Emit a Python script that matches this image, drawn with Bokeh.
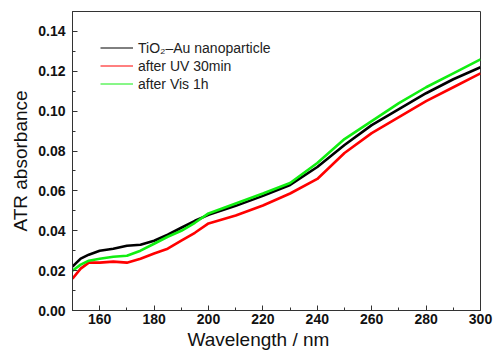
from bokeh.plotting import figure
from bokeh.models import Range1d, FixedTicker, Legend, LegendItem, Title, CustomJSTickFormatter
from bokeh.embed import file_html
from bokeh.resources import INLINE

wl = [150, 153, 156, 160, 165, 170, 175, 180, 185, 190, 195, 200, 210, 220, 230, 240, 250, 260, 270, 280, 290, 300]
tio2_au = [0.022, 0.026, 0.028, 0.030, 0.031, 0.0325, 0.033, 0.035, 0.038, 0.0415, 0.045, 0.048, 0.0525, 0.0575, 0.063, 0.072, 0.083, 0.093, 0.101, 0.109, 0.116, 0.122]
after_uv = [0.016, 0.021, 0.024, 0.024, 0.0245, 0.024, 0.026, 0.0286, 0.031, 0.035, 0.039, 0.0437, 0.0477, 0.0527, 0.0587, 0.066, 0.079, 0.089, 0.097, 0.105, 0.112, 0.119]
after_vis = [0.020, 0.023, 0.025, 0.026, 0.027, 0.0275, 0.030, 0.0335, 0.037, 0.040, 0.044, 0.0487, 0.0537, 0.0587, 0.064, 0.074, 0.086, 0.095, 0.104, 0.112, 0.119, 0.126]

x_ticks = [160, 180, 200, 220, 240, 260, 280, 300]
y_ticks = [0.00, 0.02, 0.04, 0.06, 0.08, 0.10, 0.12, 0.14]
labels = ["TiO\u2082\u2013Au nanoparticle", "after UV 30min", "after Vis 1h"]
colors = ["#000000", "#ff0000", "#11ee11"]

p = figure(width=500, height=354, output_backend="svg", toolbar_location=None,
           x_range=Range1d(150, 300), y_range=Range1d(0, 0.15),
           min_border_left=72, min_border_right=20, min_border_top=11, min_border_bottom=44)
p.background_fill_color = "white"
p.border_fill_color = "white"
p.outline_line_color = "#333333"
p.outline_line_width = 1
p.xgrid.visible = False
p.ygrid.visible = False

series = [tio2_au, after_uv, after_vis]
for ys, c in zip(series, colors):
    p.line(wl, ys, line_color=c, line_width=2.6)

# thin line renderers (off-range) used only as legend glyphs
leg_renderers = [p.line([0, 1], [0, 0], line_color=c, line_width=1) for c in colors]

for ax in (p.xaxis[0], p.yaxis[0]):
    ax.major_tick_in = 5
    ax.major_tick_out = 0
    ax.minor_tick_in = 3
    ax.minor_tick_out = 0
    ax.axis_line_color = "#333333"
    ax.major_tick_line_color = "#333333"
    ax.minor_tick_line_color = "#333333"
    ax.major_label_text_font = "Liberation Sans"
    ax.major_label_text_font_size = "14px"
    ax.major_label_text_font_style = "bold"
    ax.major_label_text_color = "#111111"
    ax.axis_label_text_font = "Liberation Sans"
    ax.axis_label_text_font_size = "19px"
    ax.axis_label_text_font_style = "normal"
    ax.axis_label_text_color = "#111111"

p.xaxis.ticker = FixedTicker(ticks=x_ticks, minor_ticks=list(range(150, 301, 10)))
p.yaxis.ticker = FixedTicker(ticks=y_ticks, minor_ticks=[i / 100 for i in range(0, 16)])
p.yaxis.formatter = CustomJSTickFormatter(code="return tick.toFixed(2);")
p.yaxis.axis_label = "ATR absorbance"
p.xaxis.major_label_standoff = 3
p.yaxis.major_label_standoff = 7
p.yaxis.axis_label_standoff = 4

# x-axis title, placed left of centre as in the reference
xtitle = Title(text="Wavelength / nm", align="left", offset=115, standoff=0,
               text_font="Liberation Sans", text_font_size="19px",
               text_font_style="normal", text_color="#111111")
p.add_layout(xtitle, "below")

legend = Legend(items=[LegendItem(label=l, renderers=[r]) for l, r in zip(labels, leg_renderers)],
                location="top_left")
legend.background_fill_alpha = 0
legend.border_line_alpha = 0
legend.label_text_font = "Liberation Sans"
legend.label_text_font_size = "14px"
legend.label_text_font_style = "normal"
legend.label_text_color = "#222222"
legend.glyph_width = 33
legend.glyph_height = 17
legend.label_height = 17
legend.spacing = 1
legend.padding = 2
legend.margin = 26
legend.label_standoff = 5
p.add_layout(legend)

open("out.html", "w").write(file_html(p, INLINE))
